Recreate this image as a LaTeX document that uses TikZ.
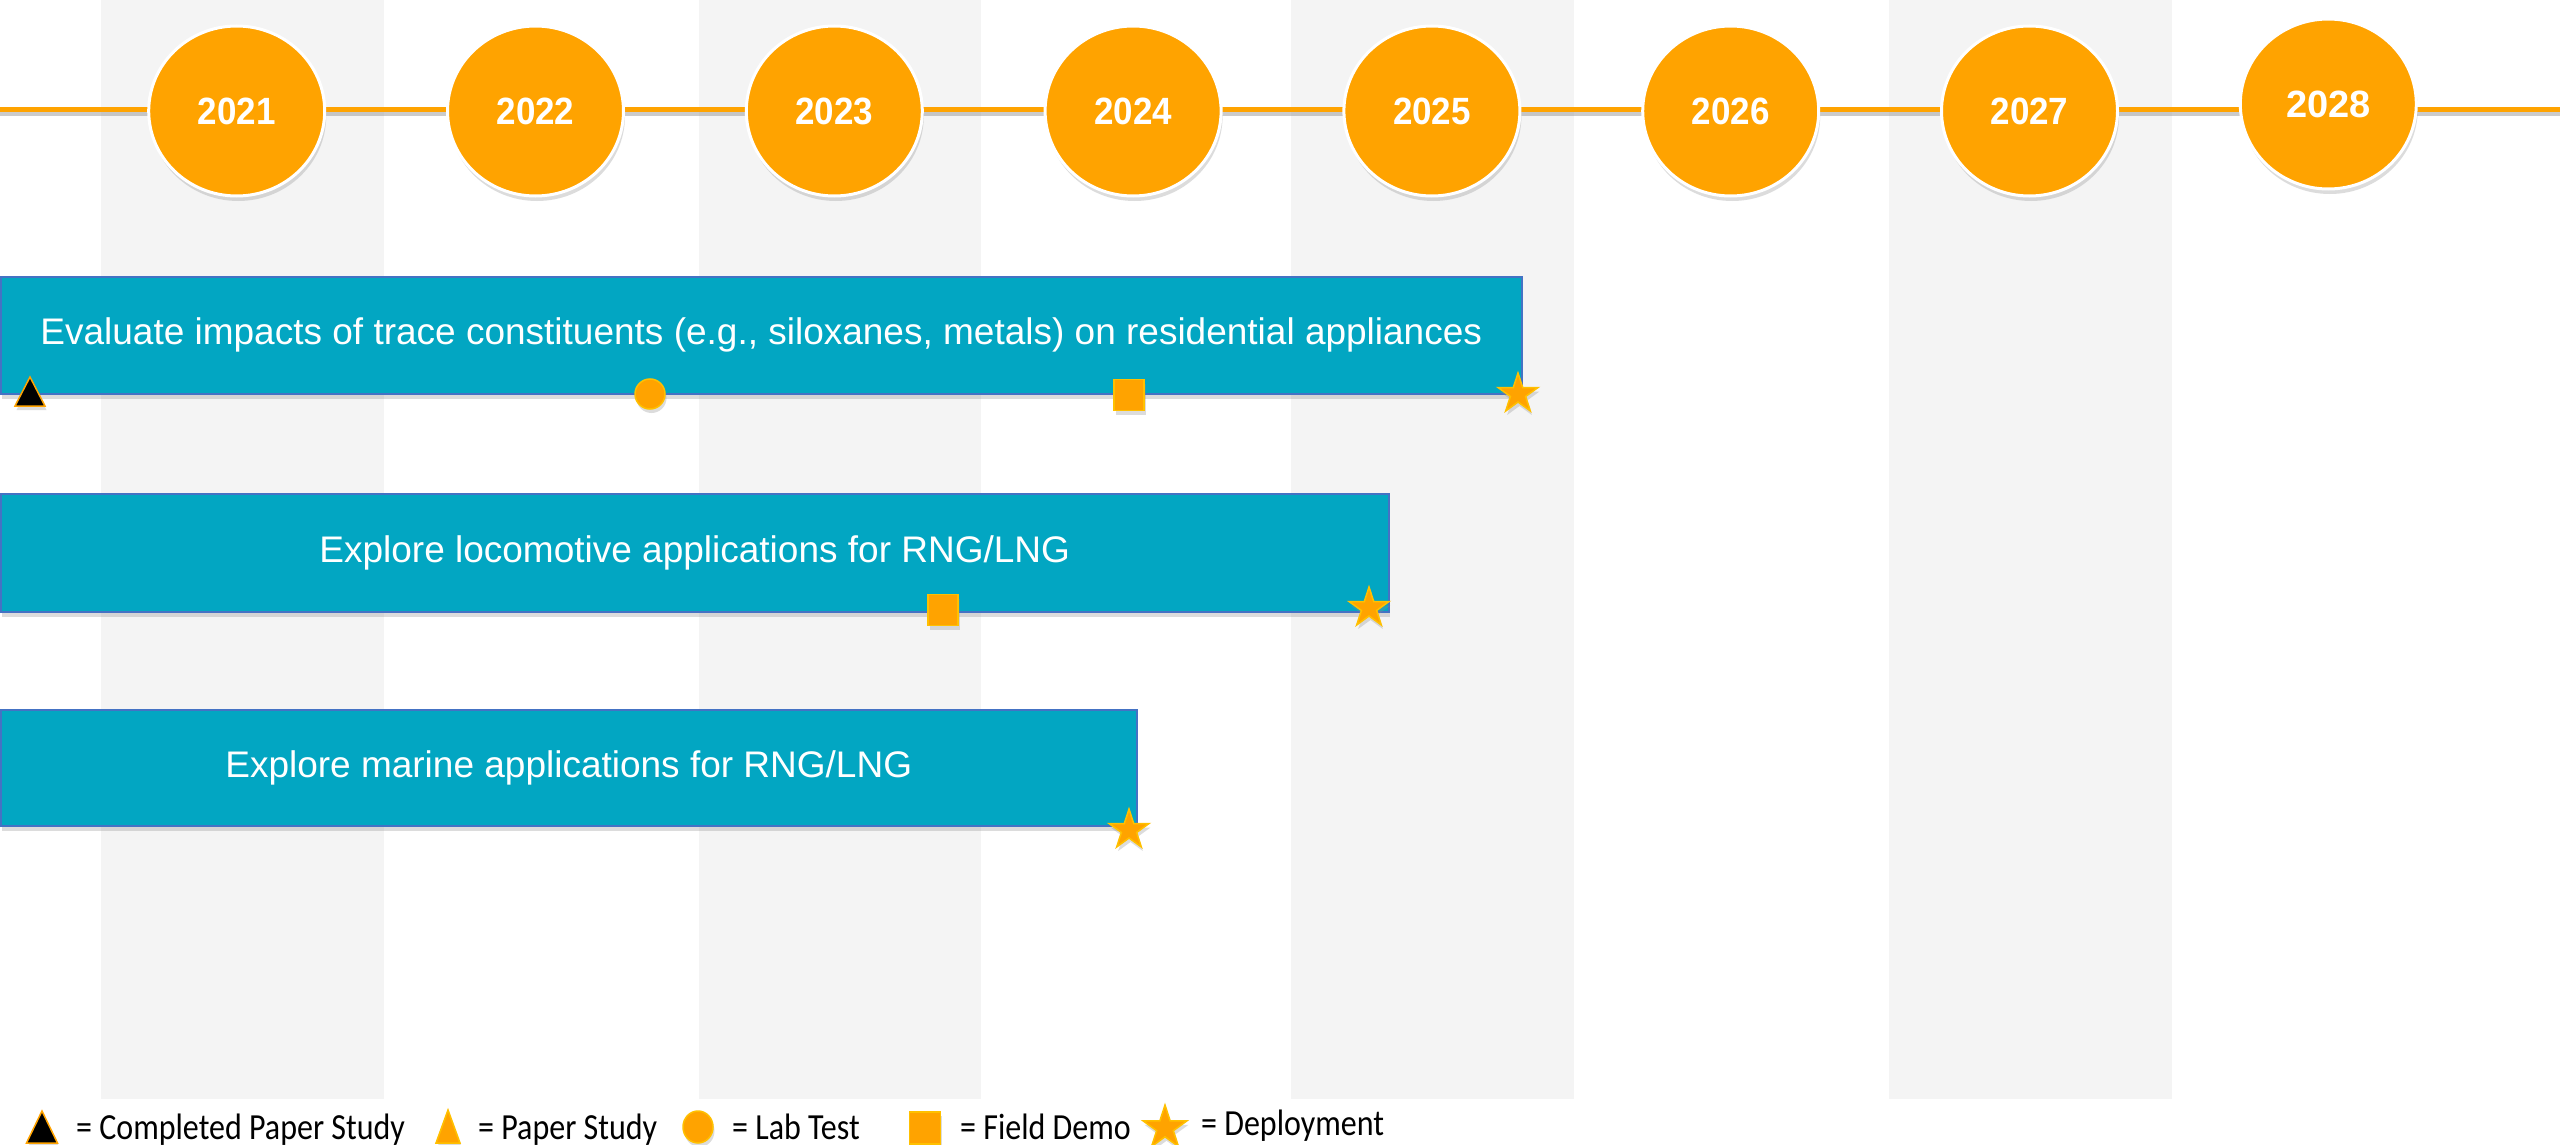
\documentclass[tikz,border=0pt]{standalone}
\usepackage{fontspec}
\setmainfont{Liberation Sans}
\newfontfamily\legendfont{Carlito}
\usetikzlibrary{shapes.geometric,shadows}
\definecolor{orangeM}{RGB}{255,163,0}
\definecolor{orangeE}{RGB}{255,192,0}
\definecolor{barfill}{RGB}{2,166,194}
\definecolor{barline}{RGB}{68,114,196}
\definecolor{colgray}{RGB}{244,244,244}
\begin{document}
\begin{tikzpicture}[x=1pt,y=-1pt,
  softshadow/.style={drop shadow={shadow xshift=1.5pt, shadow yshift=-5pt, opacity=0.3, fill=black!45}},
  yearnode/.style={ellipse, minimum width=176pt, minimum height=170pt, inner sep=0pt,
    fill=orangeM, draw=white, line width=3pt, text=white,
    font=\fontsize{38}{44}\selectfont\bfseries, softshadow},
  barnode/.style={rectangle, anchor=north west, fill=barfill, draw=barline, line width=1.5pt,
    text=white, font=\fontsize{37}{44}\selectfont, inner sep=0pt, softshadow},
  mk/.style={fill=orangeM, draw=orangeE, line width=1.5pt,
    drop shadow={shadow xshift=1.5pt, shadow yshift=-4pt, opacity=0.3, fill=black!45}},
  mkdone/.style={fill=black, draw=orangeM, line width=1.5pt,
    drop shadow={shadow xshift=1.5pt, shadow yshift=-4pt, opacity=0.3, fill=black!45}},
  labmark/.style={mk, circle, inner sep=0pt, minimum size=30pt},
  demomark/.style={mk, rectangle, inner sep=0pt, minimum width=30pt, minimum height=31pt},
  deploymark/.style={mk, star, star points=5, star point ratio=2.618, inner sep=0pt, minimum size=42pt},
  legtext/.style={anchor=base west, inner sep=0pt, font=\legendfont\fontsize{32}{38}\selectfont}
]
\useasboundingbox (0,0) rectangle (2560,1145);
\fill[white] (0,0) rectangle (2560,1145);
% gray columns
\fill[colgray] (101,0) rectangle (384,1099);
\fill[colgray] (699,0) rectangle (981,1099);
\fill[colgray] (1291,0) rectangle (1574,1099);
\fill[colgray] (1889,0) rectangle (2172,1099);
% timeline
\coordinate (tlA) at (0,110);
\coordinate (tlB) at (2560,110);
\draw[black!45, opacity=0.45, line width=4pt] ([yshift=-4pt]tlA) -- ([yshift=-4pt]tlB);
\draw[orangeM, line width=5pt] (tlA) -- (tlB);
% years
\node[yearnode] (y2021) at (236.7,111) {\scalebox{0.92}[1]{2021}};
\node[yearnode] (y2022) at (535.5,111) {\scalebox{0.92}[1]{2022}};
\node[yearnode] (y2023) at (834.3,111) {\scalebox{0.92}[1]{2023}};
\node[yearnode] (y2024) at (1133.1,111) {\scalebox{0.92}[1]{2024}};
\node[yearnode] (y2025) at (1431.9,111) {\scalebox{0.92}[1]{2025}};
\node[yearnode] (y2026) at (1730.7,111) {\scalebox{0.92}[1]{2026}};
\node[yearnode] (y2027) at (2029.5,111) {\scalebox{0.92}[1]{2027}};
\node[yearnode] (y2028) at (2328.3,104) {2028};
% bars
\node[barnode, minimum width=1521pt, minimum height=117pt] (bar1) at (0,276)
  {Evaluate impacts of trace constituents (e.g., siloxanes, metals) on residential appliances};
\node[barnode, minimum width=1388pt, minimum height=118pt] (bar2) at (0,493)
  {Explore locomotive applications for RNG/LNG};
\node[barnode, minimum width=1136pt, minimum height=116pt] (bar3) at (0,709)
  {Explore marine applications for RNG/LNG};
% bar markers
\coordinate (tri1) at (30,394);
\path[mkdone] (tri1) ++(-15,12) -- ++(30,0) -- ++(-15,-29) -- cycle;
\node[labmark] (lab1) at (650,394) {};
\node[demomark] (demo1) at (1129,395) {};
\node[deploymark] (dep1) at (1518,394) {};
\node[demomark] (demo2) at (943,610) {};
\node[deploymark] (dep2) at (1369,608) {};
\node[deploymark] (dep3) at (1129,830) {};
% legend
\coordinate (ltri1) at (42,1127);
\path[mkdone] (ltri1) ++(-15.5,16) -- ++(31,0) -- ++(-15.5,-32) -- cycle;
\node[legtext] (l1) at (76,1139) {\scalebox{1}[1.15]{= Completed Paper Study}};
\coordinate (ltri2) at (448,1127);
\path[mk] (ltri2) ++(-12,16) -- ++(24,0) -- ++(-12,-33) -- cycle;
\node[legtext] (l2) at (478,1139) {\scalebox{1}[1.15]{= Paper Study}};
\node[mk, ellipse, inner sep=0pt, minimum width=30pt, minimum height=32pt] (lcirc) at (698,1127) {};
\node[legtext] (l3) at (732,1139) {\scalebox{1}[1.15]{= Lab Test}};
\node[mk, rectangle, inner sep=0pt, minimum width=31pt, minimum height=32pt] (lsq) at (925,1128) {};
\node[legtext] (l4) at (960,1139) {\scalebox{1}[1.15]{= Field Demo}};
\node[deploymark, minimum size=46pt] (lstar) at (1165,1128) {};
\node[legtext] (l5) at (1201,1135) {\scalebox{1}[1.15]{= Deployment}};
\end{tikzpicture}
\end{document}
